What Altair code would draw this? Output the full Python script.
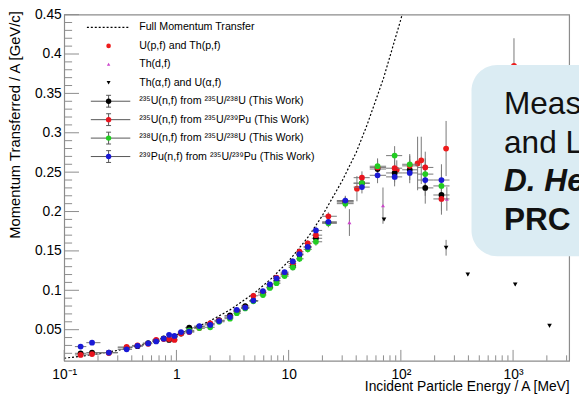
import altair as alt
import pandas as pd

# ---------------- data ----------------
# Full momentum transfer curve (dotted line)
fmt_e = [0.1, 0.15, 0.2, 0.3, 0.5, 0.7, 1, 1.5, 2, 3, 5, 7, 10, 15, 20, 30, 40, 50, 70, 100, 120]
fmt_v = [0.0137, 0.0168, 0.0194, 0.0237, 0.0306, 0.0362, 0.0433, 0.0531, 0.0613, 0.0751, 0.097,
         0.1148, 0.137, 0.168, 0.195, 0.239, 0.275, 0.310, 0.369, 0.444, 0.487]

# U(p,f) and Th(p,f)
p_e = [40.6, 92, 141, 152, 253, 1019]
p_v = [0.229, 0.253, 0.261, 0.265, 0.280, 0.385]
p_err = [0.016, 0.012, 0.034, 0.030, 0.035, 0.035]

# Th(d,f)
d_e = [34.8, 69.3, 257]
d_v = [0.186, 0.2075, 0.216]
d_err = [0.017, 0.023, 0.015]

# Th(alpha,f) and U(alpha,f)
a_e = [70.8, 253, 395, 1045, 2113]
a_v = [0.190, 0.154, 0.120, 0.1075, 0.055]
a_err = [0.002, 0.010, 0.002, 0.002, 0.002]

# This work: energy bins (MeV) and four series
bin_e = [0.14, 0.177, 0.25, 0.36, 0.45, 0.56, 0.66, 0.77, 0.86, 0.96, 1.1, 1.3, 1.6, 2.0, 2.4,
         3.0, 3.45, 4.1, 4.85, 5.9, 6.8, 7.8, 9.2, 10.9, 12.5, 14.8, 17.5, 22.6, 32, 45, 62, 88,
         120, 165, 230]
u235_238 = [0.020, 0.021, 0.021, 0.027, 0.029, 0.033, 0.036, 0.039, 0.037, 0.041,
            0.045, 0.0525, 0.054, 0.057, 0.062, 0.068, 0.074, 0.080, 0.087, 0.097,
            0.104, 0.112, 0.121, 0.131, 0.145, 0.155, 0.166, 0.186, 0.212, 0.236,
            0.254, 0.249, 0.253, 0.230, 0.221]
u235_239 = [0.018, 0.019, 0.0205, 0.028, 0.030, 0.032, 0.037, 0.038, 0.038, 0.037,
            0.045, 0.047, 0.052, 0.058, 0.0615, 0.066, 0.073, 0.078, 0.093, 0.097,
            0.107, 0.116, 0.120, 0.134, 0.149, 0.1596, 0.170, 0.194, 0.213, 0.243,
            0.256, 0.255, 0.258, 0.256, 0.216]
u238 = [None] * 11 + [0.049, 0.052, 0.053, 0.060, 0.064, 0.071, 0.077, 0.086, 0.094,
                      0.103, 0.109, 0.118, 0.129, 0.140, 0.152, 0.1616, 0.185, 0.210,
                      0.236, 0.2575, 0.271, 0.260, 0.2475, 0.2325]
pu239 = [0.0285, 0.0335, 0.021, 0.025, 0.0295, 0.0325, 0.035, 0.0385, 0.0435, 0.042,
         0.047, 0.0475, 0.0546, 0.056, 0.061, 0.066, 0.075, 0.078, 0.087, 0.099,
         0.1075, 0.115, 0.123, 0.1366, 0.146, 0.155, 0.176, 0.187, 0.214, 0.231,
         0.246, 0.244, 0.249, 0.240, 0.240]
bin_err = [0.003, 0.003, 0.002, 0.002, 0.002, 0.002, 0.002, 0.002, 0.002, 0.002,
           0.002, 0.002, 0.002, 0.002, 0.002, 0.002, 0.003, 0.003, 0.003, 0.003,
           0.003, 0.003, 0.003, 0.004, 0.004, 0.004, 0.005, 0.005, 0.006, 0.008,
           0.010, 0.012, 0.013, 0.020, 0.020]

series_names = ["235U/238U", "235U/239Pu", "238U", "239Pu"]
series_vals = [u235_238, u235_239, u238, pu239]
series_colors = ["#000000", "#e8141e", "#22cc22", "#1a1ad6"]

legend_labels = ["Full Momentum Transfer", "U(p,f) and Th(p,f)", "Th(d,f)", "Th(\u03b1,f) and U(\u03b1,f)",
                 "\u00b2\u00b3\u2075U(n,f) from \u00b2\u00b3\u2075U/\u00b2\u00b3\u2078U (This Work)",
                 "\u00b2\u00b3\u2075U(n,f) from \u00b2\u00b3\u2075U/\u00b2\u00b3\u2079Pu (This Work)",
                 "\u00b2\u00b3\u2078U(n,f) from \u00b2\u00b3\u2075U/\u00b2\u00b3\u2078U (This Work)",
                 "\u00b2\u00b3\u2079Pu(n,f) from \u00b2\u00b3\u2075U/\u00b2\u00b3\u2079Pu (This Work)"]

box_lines = ["Measurements of Fission", "and Linear Momentum", "D. Hensle et al.,", "PRC 102, 014605 (2020)"]

y_tick_values = [0.05, 0.1, 0.15, 0.2, 0.25, 0.3, 0.35, 0.4, 0.45]
x_tick_values = [0.1, 1, 10, 100, 1000]

# ---------------- layout ----------------
W, H = 512, 351
FONT = "Liberation Sans"
GRAY = "#8c8c8c"
ERR = "#777777"

xs = alt.Scale(type="log", domain=[0.1, 3160], nice=False)
ys = alt.Scale(domain=[0.0105, 0.45], nice=False, zero=False)

x_axis = alt.Axis(values=x_tick_values, ticks=False, domain=False, grid=False,
                  labelExpr="datum.value < 0.5 ? '10\u207b\u00b9' : datum.value < 5 ? '1' : datum.value < 50 ? '10' : datum.value < 500 ? '10\u00b2' : '10\u00b3'",
                  labelFont=FONT, labelFontSize=14, labelColor="#000", labelPadding=7,
                  labelFlush=False, labelOverlap=False,
                  title="Incident Particle Energy / A [MeV]", titleFont=FONT, titleFontSize=14,
                  titleFontWeight="normal", titleColor="#000", titleAlign="right",
                  titleAnchor="end", titleX=W, titleY=30, titleBaseline="alphabetic")
y_axis = alt.Axis(values=y_tick_values, ticks=False, domain=False, grid=False,
                  labelExpr="format(datum.value, '~g')",
                  labelFont=FONT, labelFontSize=14, labelColor="#000", labelPadding=3,
                  labelOverlap=False,
                  title="Momentum Transferred / A [GeV/c]", titleFont=FONT, titleFontSize=15,
                  titleFontWeight="normal", titleColor="#000", titleAngle=270,
                  titleAlign="right", titleAnchor="end", titleX=-50, titleY=-4,
                  titleBaseline="middle")


def X(f):
    return alt.X(f, type="quantitative", scale=xs, axis=x_axis)


def X2(f):
    return alt.X2(f)


def Y(f):
    return alt.Y(f, type="quantitative", scale=ys, axis=y_axis)


# ---------------- tables ----------------
line_df = pd.DataFrame({"E": fmt_e, "v": fmt_v})

rows = []
n = len(bin_e)
for s, vals in zip(series_names, series_vals):
    for i in range(n):
        if vals[i] is None:
            continue
        lo = (bin_e[i] * bin_e[i - 1]) ** 0.5 if i > 0 else bin_e[0] ** 2 / (bin_e[0] * bin_e[1]) ** 0.5
        hi = (bin_e[i] * bin_e[i + 1]) ** 0.5 if i < n - 1 else bin_e[-1] ** 2 / (bin_e[-1] * bin_e[-2]) ** 0.5
        rows.append({"series": s, "E": bin_e[i], "v": vals[i], "Elo": lo, "Ehi": hi,
                     "vlo": vals[i] - bin_err[i], "vhi": vals[i] + bin_err[i]})
tw = pd.DataFrame(rows)


def simple(es, vs, errs):
    return pd.DataFrame({"E": es, "v": vs,
                         "vlo": [a - b for a, b in zip(vs, errs)],
                         "vhi": [a + b for a, b in zip(vs, errs)]})


p_df = simple(p_e, p_v, p_err)
d_df = simple(d_e, d_v, d_err)
a_df = simple(a_e, a_v, a_err)

ymin_df = pd.DataFrame({"v": [round(0.02 + 0.01 * k, 2) for k in range(43)]})
ymin_df = ymin_df[~ymin_df["v"].isin(y_tick_values)]
xmin_vals = [d * 10 ** k for k in range(-1, 4) for d in range(2, 10) if d * 10 ** k < 3160]
xmaj_df = pd.DataFrame({"t": x_tick_values})
xmin_df = pd.DataFrame({"t": xmin_vals})
ymaj_df = pd.DataFrame({"v": y_tick_values})
one = pd.DataFrame({"k": [0]})

layers = []

# dotted full momentum transfer line (carries the axes)
layers.append(alt.Chart(line_df).mark_line(color="#000", strokeDash=[2, 2], strokeWidth=1.2, clip=True)
              .encode(x=X("E"), y=Y("v")))

# tick marks drawn inside the frame
layers.append(alt.Chart(ymaj_df).mark_rule(color=GRAY, strokeWidth=1)
              .encode(y=Y("v"), x=alt.value(0), x2=alt.value(15)))
layers.append(alt.Chart(ymin_df).mark_rule(color=GRAY, strokeWidth=1)
              .encode(y=Y("v"), x=alt.value(0), x2=alt.value(8)))
layers.append(alt.Chart(xmaj_df).mark_rule(color=GRAY, strokeWidth=1)
              .encode(x=X("t"), y=alt.value(H), y2=alt.value(H - 11)))
layers.append(alt.Chart(xmin_df).mark_rule(color=GRAY, strokeWidth=1)
              .encode(x=X("t"), y=alt.value(H), y2=alt.value(H - 5.5)))

# other experiments
for df in (p_df, d_df, a_df):
    layers.append(alt.Chart(df).mark_rule(color=ERR, strokeWidth=1, clip=True)
                  .encode(x=X("E"), y=Y("vlo"), y2=alt.Y2("vhi")))
layers.append(alt.Chart(p_df).mark_point(filled=True, shape="circle", size=34, color="#ee1c1c", opacity=1, clip=True)
              .encode(x=X("E"), y=Y("v")))
layers.append(alt.Chart(d_df).mark_point(filled=True, shape="triangle-up", size=16, color="#cc44cc", opacity=1, clip=True)
              .encode(x=X("E"), y=Y("v")))
layers.append(alt.Chart(a_df).mark_point(filled=True, shape="triangle-down", size=22, color="#000", opacity=1, clip=True)
              .encode(x=X("E"), y=Y("v")))

# this work
layers.append(alt.Chart(tw).mark_rule(color=ERR, strokeWidth=1, clip=True)
              .encode(x=X("Elo"), x2=X2("Ehi"), y=Y("v")))
layers.append(alt.Chart(tw).mark_rule(color=ERR, strokeWidth=1, clip=True)
              .encode(x=X("E"), y=Y("vlo"), y2=alt.Y2("vhi")))
layers.append(alt.Chart(tw).mark_point(filled=True, shape="circle", size=34, opacity=1, clip=True)
              .encode(x=X("E"), y=Y("v"),
                      color=alt.Color("series:N", scale=alt.Scale(domain=series_names, range=series_colors),
                                      legend=None)))

# ---------------- legend (drawn by hand, ROOT style) ----------------
LX, TX, LY0, LSTEP = 45, 76, 13, 18.7
for i, lab in enumerate(legend_labels):
    ly = LY0 + i * LSTEP
    layers.append(alt.Chart(one).mark_text(align="left", baseline="middle", font=FONT, fontSize=10.8, color="#000")
                  .encode(x=alt.value(TX), y=alt.value(ly), text=alt.value(lab)))
    if i == 0:
        layers.append(alt.Chart(one).mark_rule(color="#000", strokeDash=[2, 2], strokeWidth=1.2)
                      .encode(x=alt.value(LX - 22), x2=alt.value(LX + 20), y=alt.value(ly)))
    elif i == 1:
        layers.append(alt.Chart(one).mark_point(filled=True, shape="circle", size=22, color="#ee1c1c", opacity=1)
                      .encode(x=alt.value(LX), y=alt.value(ly)))
    elif i == 2:
        layers.append(alt.Chart(one).mark_point(filled=True, shape="triangle-up", size=12, color="#cc44cc", opacity=1)
                      .encode(x=alt.value(LX), y=alt.value(ly)))
    elif i == 3:
        layers.append(alt.Chart(one).mark_point(filled=True, shape="triangle-down", size=16, color="#000", opacity=1)
                      .encode(x=alt.value(LX), y=alt.value(ly)))
    else:
        col = series_colors[i - 4]
        layers.append(alt.Chart(one).mark_rule(color="#555", strokeWidth=1)
                      .encode(x=alt.value(LX - 18), x2=alt.value(LX + 22), y=alt.value(ly)))
        layers.append(alt.Chart(one).mark_rule(color="#555", strokeWidth=1)
                      .encode(x=alt.value(LX), y=alt.value(ly - 6), y2=alt.value(ly + 6)))
        for cy in (ly - 6, ly + 6):
            layers.append(alt.Chart(one).mark_rule(color="#555", strokeWidth=1)
                          .encode(x=alt.value(LX - 2.5), x2=alt.value(LX + 2.5), y=alt.value(cy)))
        layers.append(alt.Chart(one).mark_point(filled=True, shape="circle", size=30, color=col, opacity=1)
                      .encode(x=alt.value(LX), y=alt.value(ly)))

# ---------------- overlaid annotation box ----------------
layers.append(alt.Chart(one).mark_rect(fill="#dbecf3", cornerRadius=26)
              .encode(x=alt.value(413), x2=alt.value(760), y=alt.value(51), y2=alt.value(245)))
box_styles = [("normal", "normal"), ("normal", "normal"), ("bold", "italic"), ("bold", "normal")]
box_y = [101, 140, 179, 218]
for txt, (fw, fs), by in zip(box_lines, box_styles, box_y):
    layers.append(alt.Chart(one).mark_text(align="left", baseline="alphabetic", font=FONT, fontSize=32,
                                           fontWeight=fw, fontStyle=fs, color="#111")
                  .encode(x=alt.value(446), y=alt.value(by), text=alt.value(txt)))

chart = (alt.layer(*layers)
         .properties(width=W, height=H, autosize=alt.AutoSizeParams(type="none"),
                     padding={"left": 57, "top": 4, "right": 10, "bottom": 34},
                     background="white")
         .configure_view(stroke=GRAY, strokeWidth=1.2))

chart.save("out.html", embed_options={"renderer": "svg", "actions": False})
